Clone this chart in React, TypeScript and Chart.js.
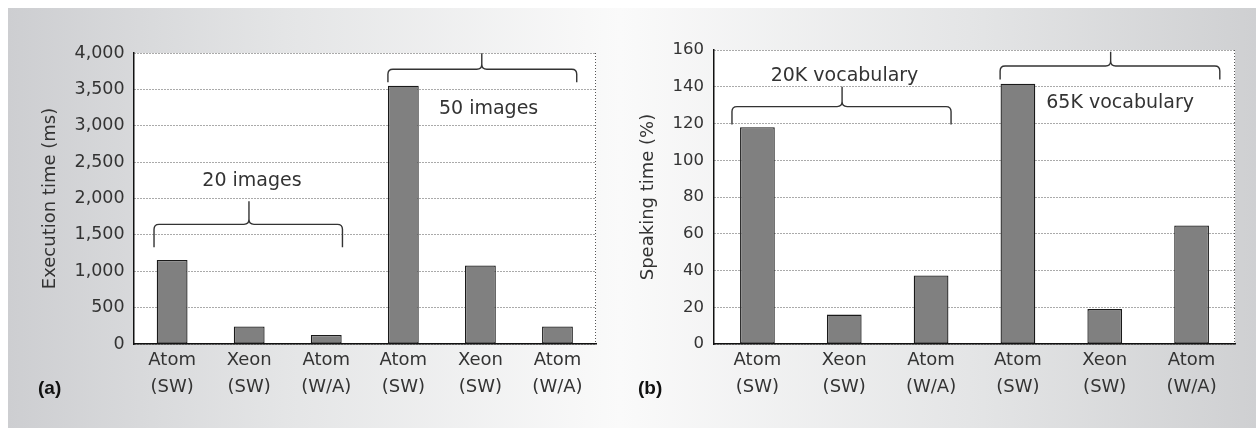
import React, { useEffect, useRef } from 'react';
import { Chart, registerables } from 'chart.js';

Chart.register(...registerables);

// ---------- data ----------
const categories: string[][] = [
  ['Atom', '(SW)'],
  ['Xeon', '(SW)'],
  ['Atom', '(W/A)'],
  ['Atom', '(SW)'],
  ['Xeon', '(SW)'],
  ['Atom', '(W/A)'],
];
const executionTimeMs = [1155, 240, 125, 3550, 1080, 240];
const speakingTimePct = [118, 16, 37.3, 141.6, 19, 64.5];
const executionTicks = [0, 500, 1000, 1500, 2000, 2500, 3000, 3500, 4000];
const speakingTicks = [0, 20, 40, 60, 80, 100, 120, 140, 160];
const imageGroups = ['20 images', '50 images'];
const vocabularyGroups = ['20K vocabulary', '65K vocabulary'];
const panelLetters = ['(a)', '(b)'];

// ---------- annotation placement (category index / value space) ----------
const leftBraces = [
  { label: imageGroups[0], from: -0.235, to: 2.21, peak: 0.997, tip: 1329, bar: 1645, top: 1962, textX: 1.036, textY: 2165 },
  { label: imageGroups[1], from: 2.8, to: 5.25, peak: 4.018, tip: 3597, bar: 3776, top: 3996, textX: 4.106, textY: 3167 },
];
const rightBraces = [
  { label: vocabularyGroups[0], from: -0.293, to: 2.23, peak: 0.975, tip: 119.5, bar: 129.2, top: 140, textX: 1.003, textY: 143.3 },
  { label: vocabularyGroups[1], from: 2.795, to: 5.325, peak: 4.068, tip: 144, bar: 151.3, top: 159.1, textX: 4.177, textY: 128.4 },
];

const FONT = '"DejaVu Sans", "Liberation Sans", sans-serif';
const TEXT = '#333333';
const GRID = '#555';
const fmt = new Intl.NumberFormat('en-US');

type Brace = typeof leftBraces[number];

function makePlugin(braces: Brace[]) {
  return {
    id: 'panelDecor',
    beforeDraw(chart: any) {
      const { ctx, chartArea: a } = chart;
      ctx.save();
      ctx.fillStyle = '#ffffff';
      ctx.fillRect(a.left, a.top, a.right - a.left, a.bottom - a.top);
      ctx.restore();
    },
    afterDraw(chart: any) {
      const { ctx, chartArea: a } = chart;
      const xs = chart.scales.x;
      const ys = chart.scales.y;
      ctx.save();
      // dotted right border
      ctx.strokeStyle = GRID;
      ctx.lineWidth = 1;
      ctx.setLineDash([1, 2]);
      const rx = Math.round(a.right) - 0.5;
      ctx.beginPath();
      ctx.moveTo(rx, a.top);
      ctx.lineTo(rx, a.bottom);
      ctx.stroke();
      ctx.setLineDash([]);
      // braces
      ctx.strokeStyle = '#333';
      ctx.lineWidth = 1.4;
      for (const b of braces) {
        const x0 = xs.getPixelForValue(b.from);
        const x1 = xs.getPixelForValue(b.to);
        const xm = xs.getPixelForValue(b.peak);
        const yTip = ys.getPixelForValue(b.tip);
        const yBar = ys.getPixelForValue(b.bar);
        const yTop = ys.getPixelForValue(b.top);
        const r = 5;
        const c = 5;
        ctx.beginPath();
        ctx.moveTo(x0, yTip);
        ctx.lineTo(x0, yBar + r);
        ctx.quadraticCurveTo(x0, yBar, x0 + r, yBar);
        ctx.lineTo(xm - c, yBar);
        ctx.quadraticCurveTo(xm, yBar, xm, yBar - c);
        ctx.lineTo(xm, yTop);
        ctx.moveTo(xm, yBar - c);
        ctx.quadraticCurveTo(xm, yBar, xm + c, yBar);
        ctx.lineTo(x1 - r, yBar);
        ctx.quadraticCurveTo(x1, yBar, x1, yBar + r);
        ctx.lineTo(x1, yTip);
        ctx.stroke();
        ctx.fillStyle = TEXT;
        ctx.font = `19px ${FONT}`;
        ctx.textAlign = 'center';
        ctx.textBaseline = 'alphabetic';
        ctx.fillText(b.label, xs.getPixelForValue(b.textX), ys.getPixelForValue(b.textY));
      }
      ctx.restore();
    },
  };
}

function makeConfig(
  values: number[],
  ticks: number[],
  title: string,
  braces: Brace[],
  axisWidth: number,
  padTop: number,
  padRight: number,
  titlePad: number,
  tickPad: number,
  tickSize: number,
) {
  return {
    type: 'bar' as const,
    data: {
      labels: categories,
      datasets: [
        {
          data: values,
          backgroundColor: '#808080',
          borderColor: '#1a1a1a',
          borderWidth: 1.3,
          borderSkipped: false,
          barPercentage: 0.4,
          categoryPercentage: 1.0,
        },
      ],
    },
    options: {
      animation: false,
      responsive: false,
      maintainAspectRatio: false,
      events: [],
      layout: { padding: { top: padTop, right: padRight, bottom: 0, left: 0 } },
      plugins: { legend: { display: false }, tooltip: { enabled: false }, title: { display: false } },
      scales: {
        x: {
          type: 'category',
          offset: true,
          grid: { display: false, drawTicks: false },
          border: { display: true, color: '#111', width: 1.5 },
          ticks: {
            padding: 3,
            color: TEXT,
            autoSkip: false,
            maxRotation: 0,
            font: { family: FONT, size: 18, lineHeight: 27 / 18 },
          },
          afterFit: (s: any) => {
            s.height = 84;
          },
        },
        y: {
          min: ticks[0],
          max: ticks[ticks.length - 1],
          afterBuildTicks: (s: any) => {
            s.ticks = ticks.map((v) => ({ value: v }));
          },
          grid: { color: GRID, lineWidth: 1, drawTicks: false },
          border: { display: true, color: '#111', width: 1.5, dash: [1, 2] },
          ticks: {
            padding: tickPad,
            color: TEXT,
            font: { family: FONT, size: tickSize },
            callback: (v: any) => fmt.format(Number(v)),
          },
          title: {
            display: true,
            text: title,
            color: TEXT,
            font: { family: FONT, size: 18 },
            padding: { top: titlePad, bottom: 0 },
          },
          afterFit: (s: any) => {
            s.width = axisWidth;
          },
        },
      },
    },
    plugins: [makePlugin(braces)],
  };
}

export default function App() {
  const leftRef = useRef<HTMLCanvasElement | null>(null);
  const rightRef = useRef<HTMLCanvasElement | null>(null);

  useEffect(() => {
    Chart.defaults.font.family = FONT;
    const left = new Chart(
      leftRef.current as HTMLCanvasElement,
      makeConfig(executionTimeMs, executionTicks, 'Execution time (ms)', leftBraces, 125.6, 45, 24, 32, 9, 17.5) as any,
    );
    const right = new Chart(
      rightRef.current as HTMLCanvasElement,
      makeConfig(speakingTimePct, speakingTicks, 'Speaking time (%)', rightBraces, 94, 42, 21, 18, 10, 16.5) as any,
    );
    return () => {
      left.destroy();
      right.destroy();
    };
  }, []);

  const letterStyle: React.CSSProperties = {
    position: 'absolute',
    top: 377,
    fontFamily: '"Liberation Sans", Arial, sans-serif',
    fontWeight: 'bold',
    fontSize: 19,
    lineHeight: '22px',
    color: '#111',
  };

  return (
    <div style={{ position: 'absolute', left: 0, top: 0, width: 1256, height: 430, overflow: 'hidden' }}>
      <div
        style={{
          position: 'absolute',
          left: 8,
          top: 8,
          width: 612,
          height: 420,
          background: 'linear-gradient(to right, #cdced1 0%, #e4e5e6 45%, #fafafa 100%)',
        }}
      />
      <div
        style={{
          position: 'absolute',
          left: 620,
          top: 8,
          width: 636,
          height: 420,
          background: 'linear-gradient(to right, #fafafa 0%, #e4e5e6 55%, #cfd0d2 100%)',
        }}
      />
      <canvas ref={leftRef} width={612} height={420} style={{ position: 'absolute', left: 8, top: 8, display: 'block' }} />
      <canvas ref={rightRef} width={636} height={420} style={{ position: 'absolute', left: 620, top: 8, display: 'block' }} />
      <div style={{ ...letterStyle, left: 38 }}>{panelLetters[0]}</div>
      <div style={{ ...letterStyle, left: 638 }}>{panelLetters[1]}</div>
    </div>
  );
}
